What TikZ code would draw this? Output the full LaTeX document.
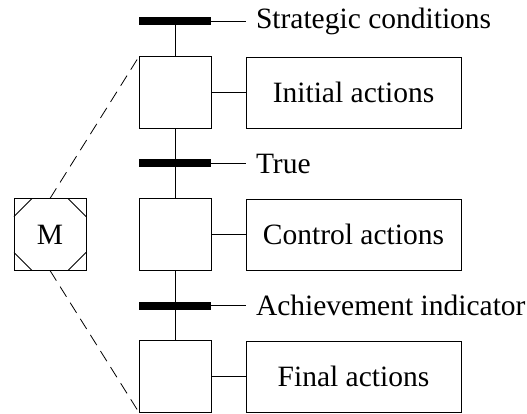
\documentclass[tikz,border=0pt]{standalone}
\usepackage{fontspec}
\setmainfont{Liberation Serif}
\usetikzlibrary{positioning}
\tikzstyle{stepbox} = [rectangle, minimum width=72pt, minimum height=72pt, inner sep=0pt, outer sep=0pt, draw=black]
\tikzstyle{actbox} = [rectangle, minimum width=215pt, minimum height=71pt, outer sep=0pt, text centered, draw=black]
\tikzstyle{bar} = [rectangle, minimum width=72pt, minimum height=8pt, inner sep=0pt, outer sep=0pt, fill=black]
\tikzstyle{cond} = [anchor=west, inner sep=10pt, outer sep=0pt]
\tikzstyle{link} = [line width=0.8pt]

\begin{document}
\begin{tikzpicture}[x=1pt, y=-1pt, node distance=31pt and 35pt, line width=0.8pt, font=\fontsize{29.5}{35}\selectfont]
\useasboundingbox (0,0) rectangle (527,414);
% steps and transitions
\node (b1) [bar] at (175,21.5) {};
\node (s1) [stepbox, below=of b1] {};
\node (b2) [bar, below=of s1] {};
\node (s2) [stepbox, below=of b2] {};
\node (b3) [bar, below=of s2] {};
\node (s3) [stepbox, below=of b3] {};

% actions
\node (a1) [actbox, right=of s1] {Initial actions};
\node (a2) [actbox, right=of s2] {Control actions};
\node (a3) [actbox, right=of s3] {Final actions};

% conditions
\node (c1) [cond, right=of b1] {Strategic conditions};
\node (c2) [cond, right=of b2] {True};
\node (c3) [cond, right=of b3] {Achievement indicator};

% macro step
\node (m) [stepbox, left=53pt of s2] {M};
\draw [link] ([xshift=18pt]m.north west) -- ([yshift=-18pt]m.north west);
\draw [link] ([xshift=-18pt]m.north east) -- ([yshift=-18pt]m.north east);
\draw [link] ([xshift=18pt]m.south west) -- ([yshift=18pt]m.south west);
\draw [link] ([xshift=-18pt]m.south east) -- ([yshift=18pt]m.south east);

\draw [link] (b1) -- (s1);
\draw [link] (s1) -- (b2);
\draw [link] (b2) -- (s2);
\draw [link] (s2) -- (b3);
\draw [link] (b3) -- (s3);

\draw [link] (s1) -- (a1);
\draw [link] (s2) -- (a2);
\draw [link] (s3) -- (a3);

\draw [link] (b1.east) -- (c1.west);
\draw [link] (b2.east) -- (c2.west);
\draw [link] (b3.east) -- (c3.west);

\draw [link, dash pattern=on 12pt off 7pt] (m.north) -- (s1.north west);
\draw [link, dash pattern=on 12pt off 7pt] (m.south) -- (s3.south west);
\end{tikzpicture}
\end{document}
